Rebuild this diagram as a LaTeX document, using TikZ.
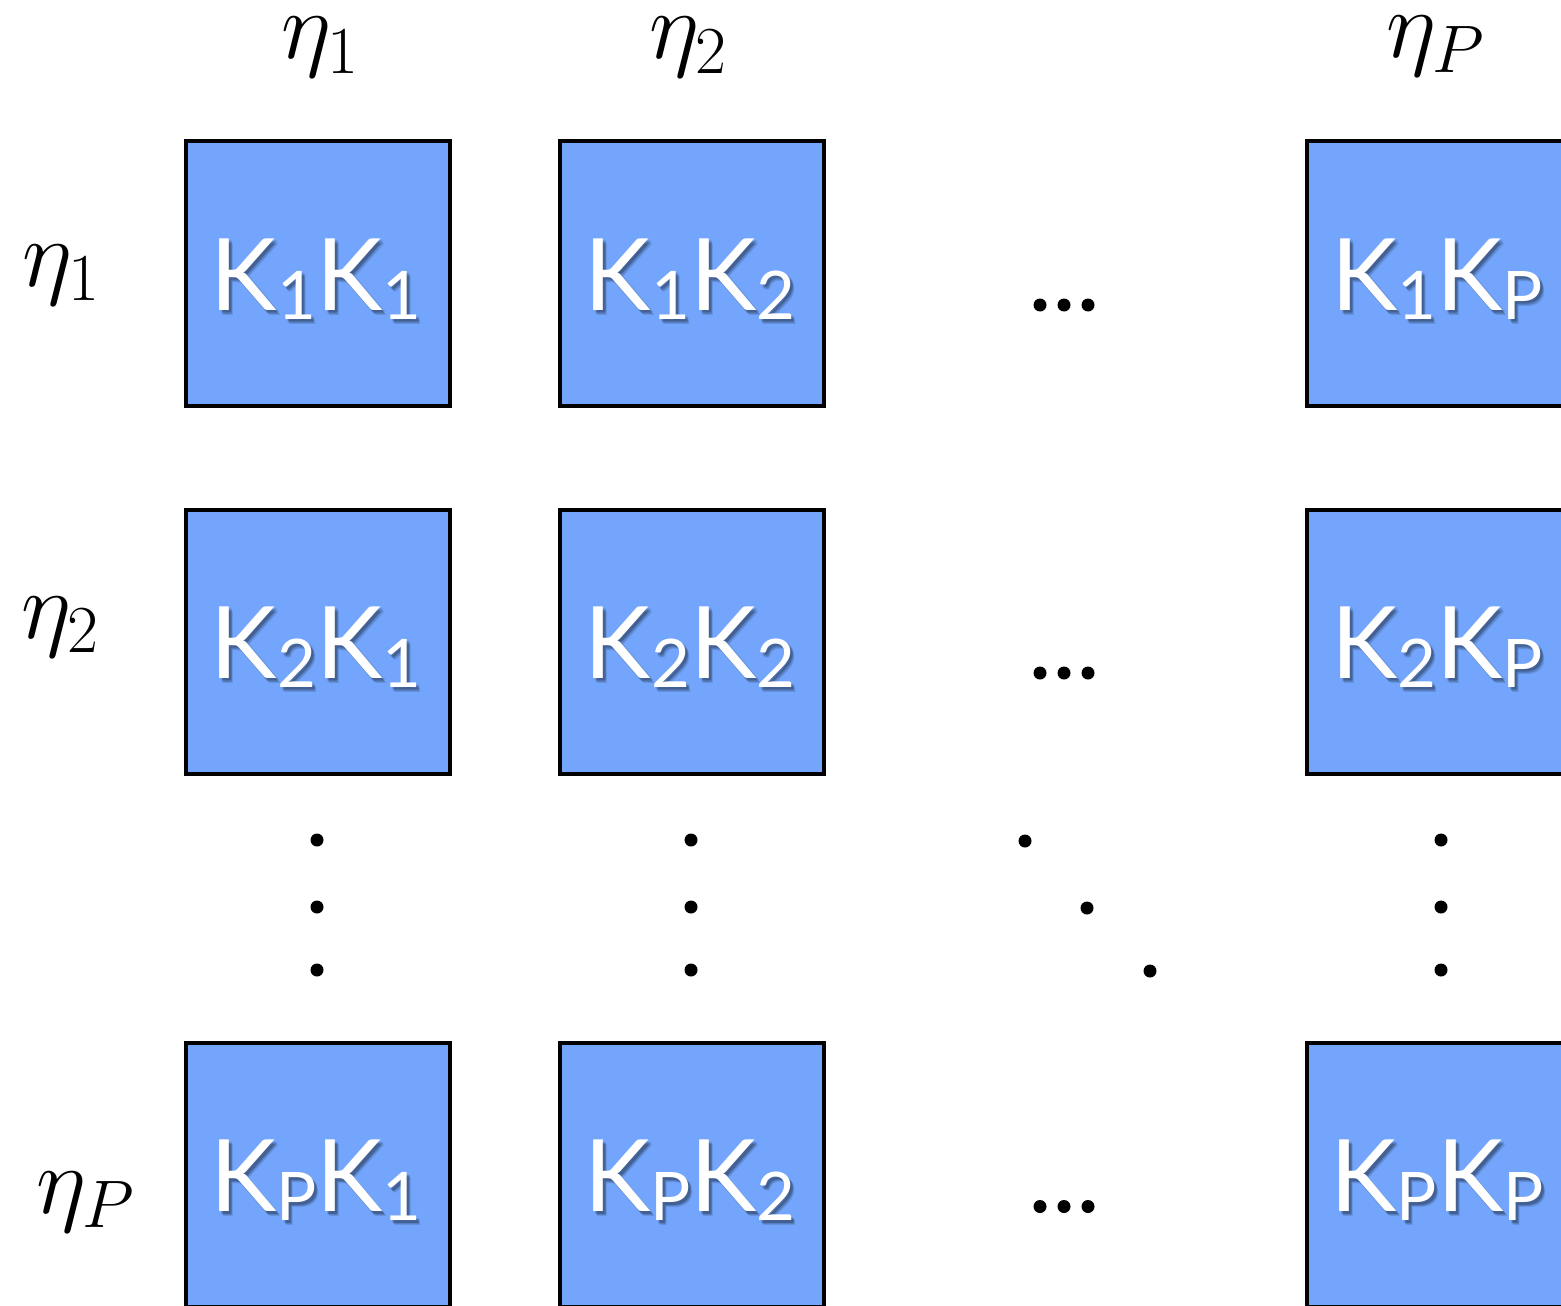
\RequirePackage{fix-cm}
\documentclass[tikz,border=0pt]{standalone}
\usepackage{fontspec}
\usetikzlibrary{calc}
\newfontfamily\boxfont{Lato}
\definecolor{cellblue}{RGB}{114,165,251}
% lowered, smaller index after a K
\newcommand\kidx[1]{\raisebox{-4.5pt}{\fontsize{33.5}{36}\selectfont #1}}
\newcommand\kpair[2]{K\kidx{#1}K\kidx{#2}}
% one faint, offset copy of a label (for the soft drop shadow)
\newcommand\kghost[4]{\rlap{\kern#1\raisebox{-#2}{\kpair{#3}{#4}}}}
% soft shadow behind a label, then the label itself
\newcommand\kshadow[2]{%
  {\pgfsetfillopacity{0.12}\color{black}%
   \kghost{1pt}{1.5pt}{#1}{#2}\kghost{1.5pt}{2pt}{#1}{#2}%
   \kghost{2pt}{2.5pt}{#1}{#2}\kghost{1.5pt}{1.25pt}{#1}{#2}}%
  \pgfsetfillopacity{1}\kpair{#1}{#2}}
\begin{document}
\begin{tikzpicture}[x=0.5pt,y=-0.5pt,
  cell/.style={draw=black, line width=2pt, fill=cellblue,
    minimum width=132pt, minimum height=132pt, inner sep=0pt},
  ktext/.style={text=white, font=\boxfont\fontsize{50}{56}\selectfont,
    anchor=base, inner sep=0pt},
  eta/.style={font=\fontsize{48}{52}\selectfont, anchor=base west, inner sep=0pt},
  dotmark/.style={fill=black}]
\useasboundingbox (0,0) rectangle (1561,1305);
\clip (0,0) rectangle (1561,1305);

% grid of kernel products
\foreach \r/\y/\a in {1/273.5/1, 2/641.5/2, 3/1175/P}{
  \foreach \c/\x/\b in {1/318/1, 2/692/2, 3/1439/P}{
    \node[cell] (c\r\c) at (\x,\y) {};
    \node[ktext] (t\r\c) at ($(c\r\c.center)+(-2,36.5)$) {\kshadow{\a}{\b}};
  }
}

% column labels
\node[eta] (h1) at (281,59) {$\eta_1$};
\node[eta] (h2) at (649,59) {$\eta_2$};
\node[eta] (h3) at (1386,58) {$\eta_P$};
% row labels
\node[eta] (v1) at (22,286) {$\eta_1$};
\node[eta] (v2) at (21,638) {$\eta_2$};
\node[eta] (v3) at (36,1213) {$\eta_P$};

% horizontal ellipses
\foreach \y in {305, 673, 1206.5}{
  \foreach \x in {1040, 1064, 1088}{
    \fill[dotmark] (\x,\y) circle[radius=6.5];
  }
}
% vertical ellipses
\foreach \x in {317, 691, 1441}{
  \foreach \y in {840, 907, 970}{
    \fill[dotmark] (\x,\y) circle[radius=6.5];
  }
}
% diagonal ellipsis
\foreach \x/\y in {1025/841, 1087/908, 1150/971}{
  \fill[dotmark] (\x,\y) circle[radius=6.5];
}
\end{tikzpicture}
\end{document}
